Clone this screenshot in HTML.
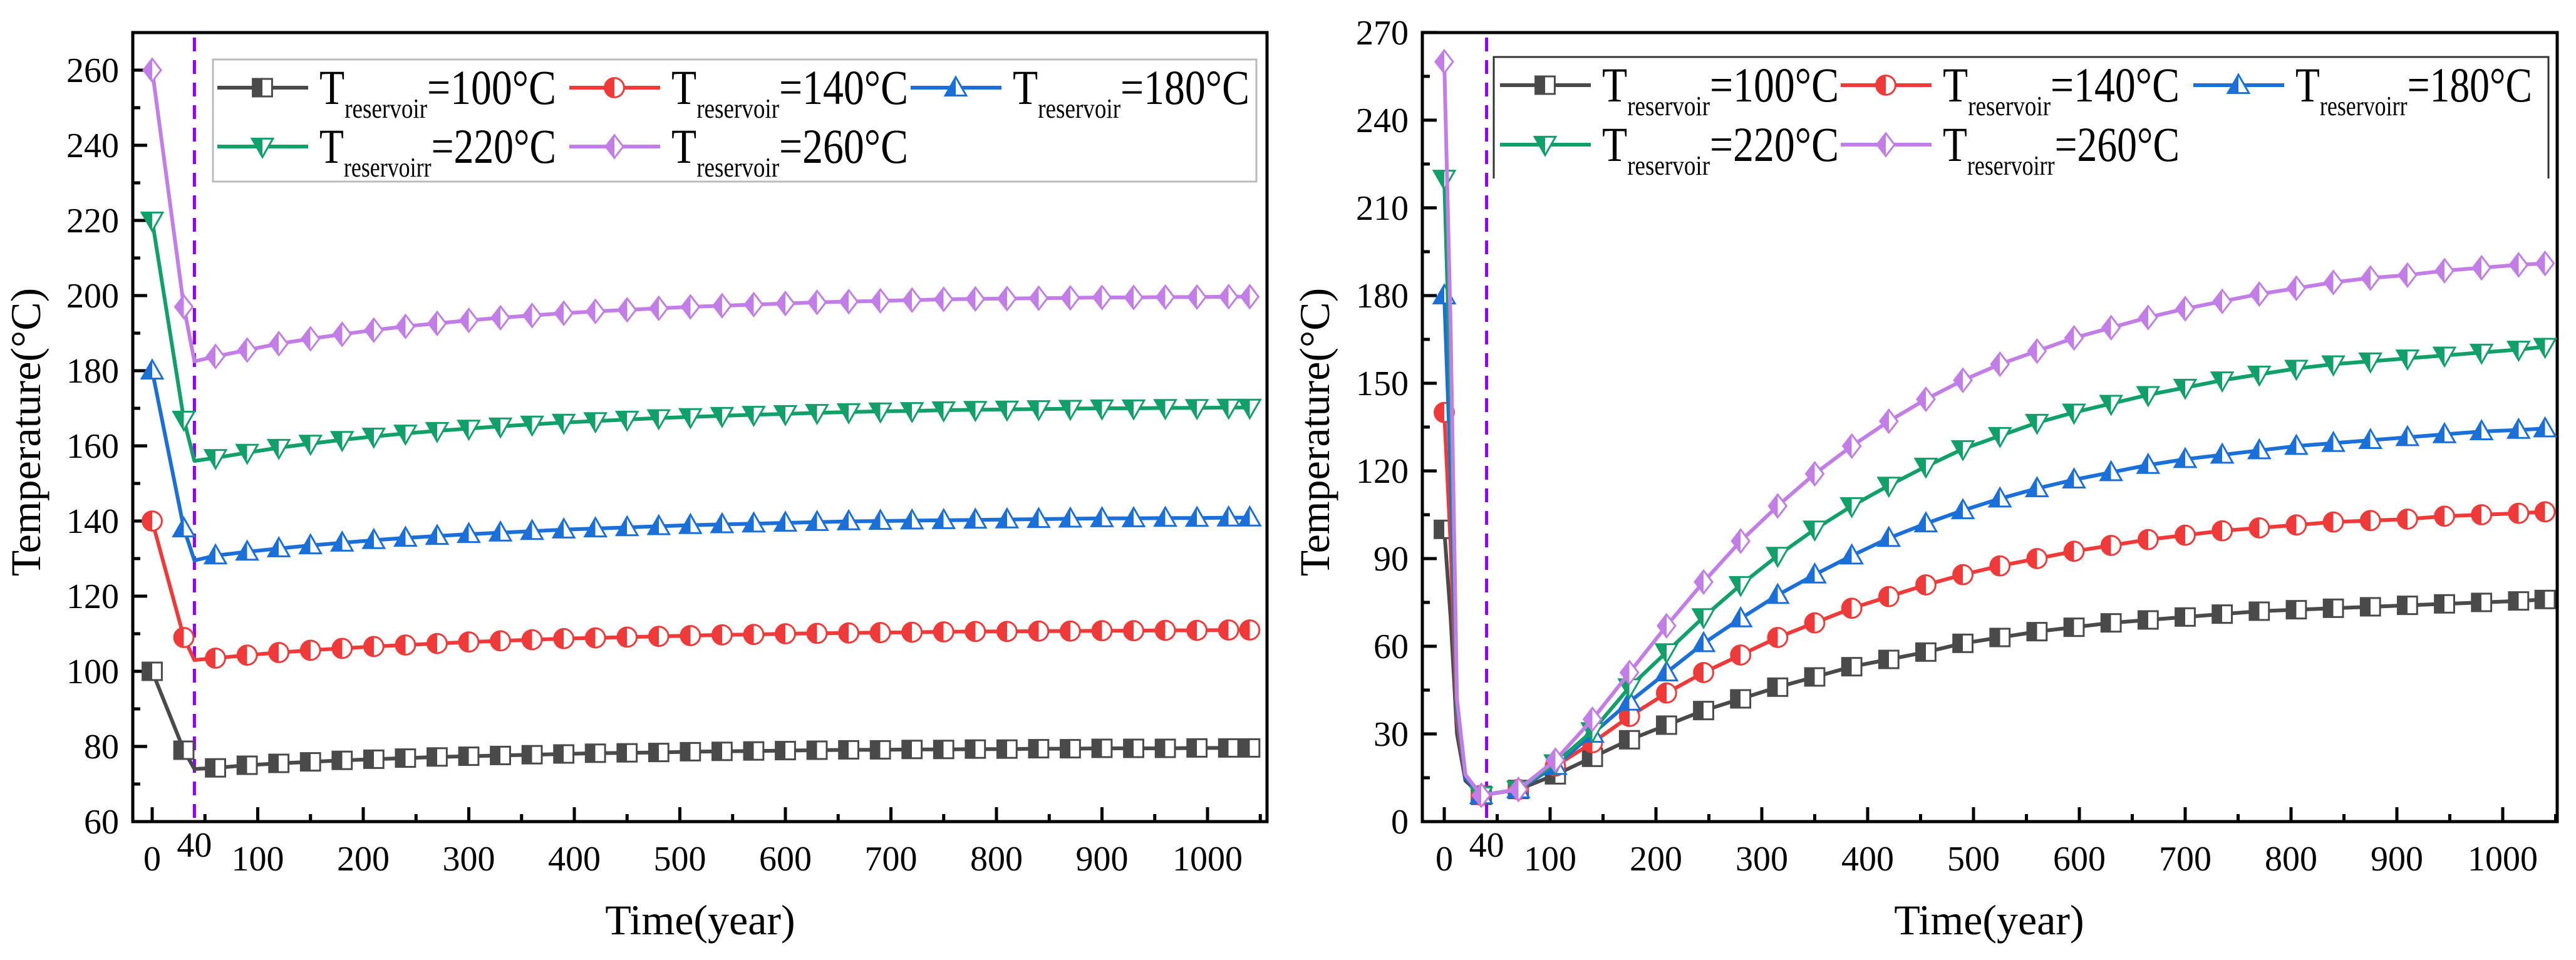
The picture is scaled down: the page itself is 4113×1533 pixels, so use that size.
<!DOCTYPE html>
<html><head><meta charset="utf-8"><style>
html,body{margin:0;padding:0;background:#fff;}
svg{display:block;font-family:"Liberation Serif",serif;}
</style></head><body>
<svg id="chart" width="4113" height="1533" viewBox="0 0 4113 1533">
<defs id="defs"></defs>
</svg>
<script>
// ---------- Data: left chart ----------
const leftX = [0,30,40,60,90,120,150,180,210,240,270,300,330,360,390,420,450,480,510,540,570,600,630,660,690,720,750,780,810,840,870,900,930,960,990,1020,1040];
const leftGray   = [100,79,74,74.3,75,75.5,75.9,76.3,76.6,76.9,77.2,77.4,77.6,77.8,78.0,78.2,78.3,78.4,78.6,78.7,78.8,78.9,79.0,79.1,79.1,79.2,79.2,79.3,79.3,79.4,79.4,79.5,79.5,79.5,79.6,79.6,79.6];
const leftRed    = [140,109,103,103.5,104.3,105,105.6,106.1,106.6,107,107.4,107.8,108.1,108.4,108.7,108.9,109.1,109.3,109.5,109.7,109.8,110,110.1,110.2,110.3,110.4,110.5,110.6,110.6,110.7,110.7,110.8,110.8,110.9,110.9,111,111];
const leftBlue   = [180,138,129.5,130.8,131.8,132.7,133.5,134.2,134.9,135.5,136,136.5,136.9,137.3,137.7,138,138.3,138.6,138.9,139.1,139.3,139.5,139.7,139.9,140,140.1,140.2,140.3,140.4,140.5,140.6,140.7,140.7,140.8,140.8,140.9,140.9];
const leftGreen  = [220,167,156,156.8,158.2,159.5,160.6,161.6,162.5,163.3,164,164.6,165.2,165.7,166.2,166.6,167,167.4,167.7,168,168.3,168.5,168.8,169,169.2,169.3,169.5,169.6,169.7,169.8,169.9,170,170,170.1,170.1,170.2,170.2];
const leftPurple = [260,197,182.5,183.8,185.5,187.2,188.5,189.7,190.8,191.8,192.6,193.4,194.1,194.7,195.3,195.8,196.2,196.6,197,197.3,197.6,197.9,198.2,198.4,198.6,198.8,199,199.1,199.2,199.3,199.4,199.5,199.5,199.6,199.6,199.7,199.7];
const leftMarked = [1,1,0,1,1,1,1,1,1,1,1,1,1,1,1,1,1,1,1,1,1,1,1,1,1,1,1,1,1,1,1,1,1,1,1,1,1];
const leftYTicks = [60,80,100,120,140,160,180,200,220,240,260];
const leftXTicks = [0,100,200,300,400,500,600,700,800,900,1000];

// ---------- Data: right chart ----------
const rightX = [0,6,12,20,35,70,105,140,175,210,245,280,315,350,385,420,455,490,525,560,595,630,665,700,735,770,805,840,875,910,945,980,1015,1040];
const rightGray   = [100,70,30,14,9,11,16,22,28,33,38,42,46,49.5,53,55.5,58,61,63,65,66.5,68,69,70,71,72,72.5,73,73.5,74,74.5,75,75.5,76];
const rightRed    = [140,95,35,15,9,11,19,27,36,44,51,57,63,68,73,77,81,84.5,87.5,90,92.5,94.5,96.5,98,99.5,100.5,101.5,102.5,103,103.5,104.5,105,105.5,106];
const rightBlue   = [180,120,38,15,9,11,19,30,41,51,61,69.5,77.5,84.5,91,97,102,106.5,110.5,114,117,119.5,122,124,125.5,127,128.5,129.5,130.5,131.5,132.5,133.5,134,134.5];
const rightGreen  = [220,145,40,16,9,11,20,31,46,58,70,81,91,100,108,115,121.5,127.5,132,136.5,140,143,146,148.5,151,153,155,156.5,157.5,158.5,159.5,160.5,161.5,162.5];
const rightPurple = [260,170,42,16,9,11,21,35,51,67,82,96,108,119,128.5,137,144.5,151,156.5,161,165.5,169,172.5,175.5,178,180.5,182.5,184.5,186,187,188.5,189.5,190.5,191];
const rightMarked = [1,0,0,0,1,1,1,1,1,1,1,1,1,1,1,1,1,1,1,1,1,1,1,1,1,1,1,1,1,1,1,1,1,1];
const rightYTicks = [0,30,60,90,120,150,180,210,240,270];
const rightXTicks = [0,100,200,300,400,500,600,700,800,900,1000];

const NS = "http://www.w3.org/2000/svg";
const svg = document.getElementById('chart');
const defs = document.getElementById('defs');
const COLORS = {gray:'#4a4a4a', red:'#f03a3a', blue:'#1a6fd8', green:'#12a06a', purple:'#c27de6'};
function mk(tag, attrs, parent){
  const e = document.createElementNS(NS, tag);
  for (const k in attrs) e.setAttribute(k, attrs[k]);
  (parent||svg).appendChild(e);
  return e;
}
for (const c in COLORS){
  const g = mk('linearGradient',{id:'half-'+c,x1:'0',y1:'0',x2:'1',y2:'0'},defs);
  mk('stop',{offset:'0.5','stop-color':COLORS[c]},g);
  mk('stop',{offset:'0.5','stop-color':'#ffffff'},g);
}
function marker(parent, shape, color, cx, cy, s){
  let e;
  const fill = 'url(#half-'+color+')', st = COLORS[color];
  if (shape==='square') e = mk('rect',{x:cx-s*0.55,y:cy-s*0.5,width:s*1.1,height:s,fill:fill,stroke:st,'stroke-width':3},parent);
  else if (shape==='circle') e = mk('circle',{cx:cx,cy:cy,r:s*0.55,fill:fill,stroke:st,'stroke-width':3},parent);
  else if (shape==='up') e = mk('path',{d:`M${cx},${cy-s*0.6}L${cx+s*0.6},${cy+s*0.45}L${cx-s*0.6},${cy+s*0.45}Z`,fill:fill,stroke:st,'stroke-width':3},parent);
  else if (shape==='down') e = mk('path',{d:`M${cx},${cy+s*0.6}L${cx+s*0.6},${cy-s*0.45}L${cx-s*0.6},${cy-s*0.45}Z`,fill:fill,stroke:st,'stroke-width':3},parent);
  else e = mk('path',{d:`M${cx},${cy-s*0.65}L${cx+s*0.5},${cy}L${cx},${cy+s*0.65}L${cx-s*0.5},${cy}Z`,fill:fill,stroke:st,'stroke-width':3},parent);
  
  
  return e;
}

function drawChart(cfg){
  const g = mk('g',{});
  
  
  const xs = v => cfg.x0 + v*cfg.xk;
  const ys = v => cfg.yb - (v-cfg.ymin)*cfg.yk;
  const frame = mk('rect',{x:cfg.L,y:cfg.T,width:cfg.R-cfg.L,height:cfg.yb-cfg.T,fill:'none',stroke:'#000','stroke-width':5},g);
  
  
  for (let v=0; v<=1050; v+=50){
    const major = v%100===0;
    mk('line',{x1:xs(v),x2:xs(v),y1:cfg.yb,y2:cfg.yb-(major?23:12),stroke:'#000','stroke-width':5},g);
  }
  cfg.xTicks.forEach(v=>{
    const t = mk('text',{x:xs(v),y:1390,'font-size':56,'text-anchor':'middle'},g);
    t.textContent = v;
    
    
  });
  const t40 = mk('text',{x:xs(40),y:1368,'font-size':56,'text-anchor':'middle'},g);
  t40.textContent = '40';
  
  
  const step = cfg.yTicks[1]-cfg.yTicks[0];
  for (let v=cfg.ymin; v<=cfg.ymax; v+=step/2){
    const major = ((v-cfg.ymin)/step)%1===0;
    mk('line',{x1:cfg.L,x2:cfg.L+(major?23:12),y1:ys(v),y2:ys(v),stroke:'#000','stroke-width':5},g);
  }
  cfg.yTicks.forEach(v=>{
    const t = mk('text',{x:cfg.L-22,y:ys(v)+19,'font-size':56,'text-anchor':'end'},g);
    t.textContent = v;
    
    
  });
  const xt = mk('text',{x:cfg.xTitleX,y:1492,'font-size':68,'text-anchor':'middle'},g);
  xt.textContent = 'Time(year)';
  
  
  const yt = mk('text',{x:0,y:0,'font-size':68,'text-anchor':'middle',transform:`translate(${cfg.yTitleX},690) rotate(-90)`},g);
  yt.textContent = 'Temperature(°C)';
  
  
  const dl = mk('line',{x1:xs(40),x2:xs(40),y1:cfg.T+8,y2:cfg.yb,stroke:'#8f00ff','stroke-width':5,'stroke-dasharray':'22 14'},g);
  
  
  cfg.series.forEach(s=>{
    const sg = mk('g',{},g);
    
    
    const pts = cfg.xData.map((x,i)=>xs(x).toFixed(1)+','+ys(s.data[i]).toFixed(1)).join(' ');
    const pl = mk('polyline',{points:pts,fill:'none',stroke:COLORS[s.color],'stroke-width':6,'stroke-linejoin':'round'},sg);
    
    
    cfg.xData.forEach((x,i)=>{ if (cfg.marked[i]) marker(sg, s.shape, s.color, xs(x), ys(s.data[i]), 28); });
  });
  const lg = mk('g',{},g);
  
  
  if (cfg.leg.full) mk('rect',{x:cfg.leg.x,y:cfg.leg.y,width:cfg.leg.w,height:cfg.leg.h,fill:'#fff',stroke:'#bbb','stroke-width':3},lg);
  else {
    const L = cfg.leg.x, T = cfg.leg.y, R = cfg.leg.x+cfg.leg.w, B = cfg.leg.y+cfg.leg.h;
    mk('path',{d:`M${L},${B}L${L},${T}L${R},${T}L${R},${B}`,fill:'none',stroke:'#333','stroke-width':3},lg);
  }
  cfg.leg.items.forEach((it,i)=>{
    const s = cfg.series[i];
    const e = mk('g',{},lg);
    
    
    mk('line',{x1:it[0],x2:it[0]+145,y1:it[1],y2:it[1],stroke:COLORS[s.color],'stroke-width':6},e);
    marker(e, s.shape, s.color, it[0]+72, it[1], 28);
    const t = mk('text',{x:it[0]+163,y:it[1]+26,'font-size':78,textLength:378,lengthAdjust:'spacingAndGlyphs'},e);
    const a = mk('tspan',{},t); a.textContent='T';
    const b = mk('tspan',{'font-size':44,dy:22}, t); b.textContent = it[2];
    const c = mk('tspan',{dy:-22}, t); c.textContent = '='+s.label+'°C';
  });
}

drawChart({
  name:'left-chart', L:212, R:2023, T:52, yb:1312, x0:243, xk:1.685, ymin:60, ymax:270, yk:6.0,
  xTitleX:1118, yTitleX:64, xTicks:leftXTicks, yTicks:leftYTicks, xData:leftX, marked:leftMarked,
  series:[
    {label:'100',color:'gray',shape:'square',data:leftGray},
    {label:'140',color:'red',shape:'circle',data:leftRed},
    {label:'180',color:'blue',shape:'up',data:leftBlue},
    {label:'220',color:'green',shape:'down',data:leftGreen},
    {label:'260',color:'purple',shape:'diamond',data:leftPurple}],
  leg:{full:true,x:340,y:95,w:1666,h:195, items:[[347,140,'reservoir'],[909,140,'reservoir'],[1454,140,'reservoir'],[347,234,'reservoirr'],[909,234,'reservoir']]}
});
drawChart({
  name:'right-chart', L:2271, R:4083, T:52, yb:1312, x0:2306, xk:1.69, ymin:0, ymax:270, yk:4.667,
  xTitleX:3176, yTitleX:2122, xTicks:rightXTicks, yTicks:rightYTicks, xData:rightX, marked:rightMarked,
  series:[
    {label:'100',color:'gray',shape:'square',data:rightGray},
    {label:'140',color:'red',shape:'circle',data:rightRed},
    {label:'180',color:'blue',shape:'up',data:rightBlue},
    {label:'220',color:'green',shape:'down',data:rightGreen},
    {label:'260',color:'purple',shape:'diamond',data:rightPurple}],
  leg:{full:false,x:2385,y:91,w:1684,h:194, items:[[2395,136,'reservoir'],[2939,136,'reservoir'],[3502,136,'reservoirr'],[2395,231,'reservoir'],[2939,231,'reservoirr']]}
});
</script>
</body></html>
